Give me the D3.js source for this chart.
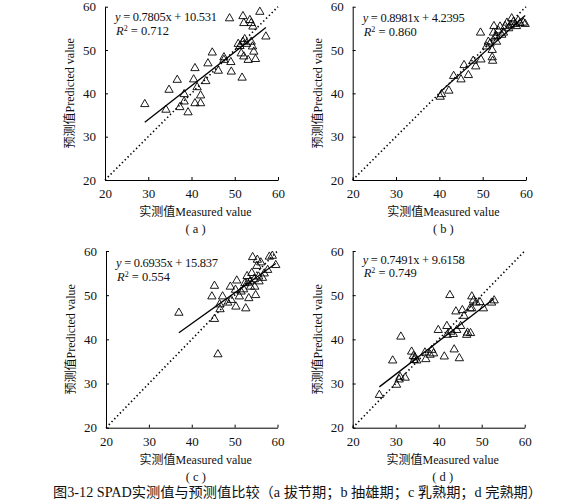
<!DOCTYPE html>
<html><head><meta charset="utf-8">
<script src="https://cdn.jsdelivr.net/npm/d3@7"></script>
<style>
body{margin:0;background:#fff;}
text{font-family:"Liberation Serif","Times New Roman","Noto Sans CJK SC",serif;fill:#111;}
</style></head>
<body><svg id="c" width="576" height="502"></svg>
<script>
// ---- data ----
const axisTicks = [20, 30, 40, 50, 60];
const panelLabels = ["( a )", "( b )", "( c )", "( d )"];
const slopes = [0.7805, 0.8981, 0.6935, 0.7491];
const intercepts = [10.531, 4.2395, 15.837, 9.6158];
const eqTexts = [" = 0.7805x + 10.531", " = 0.8981x + 4.2395", " = 0.6935x + 15.837", " = 0.7491x + 9.6158"];
const r2Texts = [" = 0.712", " = 0.860", " = 0.554", " = 0.749"];

const aMeasured = [29.2,34.1,34.8,36.7,37.3,38.3,38.3,39.2,40.8,40.5,40.8,41.3,42.1,42.1,43.3,43.8,44.8,46.2,47.5,47.5,48.8,49.1,49.2,51.7,51.9,52.1,51.9,51.2,51.5,52.1,53.1,52.3,53.5,53.8,54.2,53.8,54.1,54.4,54.8,55.8,57.2,52.7,50.8];
const aPredicted = [37.5,36.2,40.8,43.1,36.8,39.8,38.1,35.6,45.8,43.2,37.7,41.4,39.5,37.7,42.8,46.9,49.4,45.2,48.3,47.7,57.3,47.2,45.0,43.6,57.8,56.2,51.9,50.9,49.2,48.5,47.7,52.5,56.9,56.2,55.4,51.9,50.8,49.6,47.9,58.8,53.1,51.4,51.4];

const bMeasured = [40.2,40.5,42.2,43.3,45.0,45.7,46.7,47.8,48.4,49.5,49.6,50.9,51.3,52.2,52.2,52.3,52.6,52.5,52.8,53.2,53.6,54.0,54.4,54.8,55.2,55.6,56.4,56.7,57.1,57.5,57.8,58.2,58.6,59.4,59.8,56.0,53.2,51.7];
const bPredicted = [39.2,39.8,40.6,44.0,43.2,46.5,44.2,47.5,46.2,54.0,47.8,50.8,51.9,50.0,48.3,47.5,55.5,54.0,52.9,51.9,54.5,55.4,53.5,54.0,55.5,56.3,55.8,57.3,56.5,56.0,55.5,56.8,56.2,56.3,56.0,55.0,53.2,51.5];

const cMeasured = [37.0,45.3,44.7,45.3,46.1,46.5,46.6,47.2,48.4,49.2,49.0,50.2,50.5,50.3,51.1,51.5,52.1,52.4,52.6,52.9,53.3,53.6,54.0,54.2,54.7,54.9,55.2,55.3,55.6,55.7,56.1,56.5,56.9,57.7,58.1,59.6,58.8,53.0,53.7,54.6];
const cPredicted = [46.0,52.1,49.7,44.6,36.6,47.9,46.8,49.7,48.3,48.9,51.9,51.2,53.3,47.4,49.7,50.8,51.3,52.7,47.0,54.3,49.3,53.1,55.0,58.6,51.9,50.0,56.6,58.0,54.2,53.1,57.4,53.9,54.9,55.7,58.7,56.8,58.9,52.8,51.9,53.6];

const dMeasured = [26.2,29.3,30.2,30.8,31.0,31.2,32.2,33.7,34.1,34.3,34.5,34.9,36.8,37.0,38.0,38.4,38.8,39.9,41.3,41.9,42.0,42.6,42.8,43.4,43.6,44.0,44.2,44.8,45.1,45.5,45.9,46.5,46.7,47.4,47.7,47.7,48.1,48.7,49.6,50.4,52.3,52.9,47.3];
const dPredicted = [27.4,35.2,29.7,30.9,31.5,40.6,31.3,37.2,36.2,35.3,35.9,35.2,37.0,35.5,36.5,37.6,36.8,42.1,36.1,43.0,41.0,50.0,41.7,41.2,37.7,46.3,42.1,35.7,43.0,46.6,45.3,41.0,41.5,41.4,49.7,47.0,48.8,48.3,48.4,47.0,48.3,48.8,47.0];

const measured = [aMeasured, bMeasured, cMeasured, dMeasured];
const predicted = [aPredicted, bPredicted, cPredicted, dPredicted];

// ---- layout ----
const frames = [
  {l:105, t:6.7, w:173, h:173.3, eqY:21, r2Y:35},
  {l:352.7, t:6.7, w:173.3, h:173.3, eqY:22, r2Y:36},
  {l:106, t:251, w:171.5, h:176.7, eqY:267, r2Y:281},
  {l:352.7, t:251, w:172, h:176.7, eqY:264, r2Y:277}
];

const svg = d3.select("#c");

frames.forEach((f, i) => {
  const x = d3.scaleLinear().domain([20, 60]).range([f.l, f.l + f.w]);
  const y = d3.scaleLinear().domain([20, 60]).range([f.t + f.h, f.t]);
  const g = svg.append("g");

  const xa = g.append("g").attr("transform", `translate(0,${f.t + f.h})`)
    .call(d3.axisBottom(x).tickValues(axisTicks).tickSizeInner(-3).tickSizeOuter(0).tickPadding(9));
  const ya = g.append("g").attr("transform", `translate(${f.l},0)`)
    .call(d3.axisLeft(y).tickValues(axisTicks).tickSizeInner(-3).tickSizeOuter(0).tickPadding(9));
  [xa, ya].forEach(a => {
    a.selectAll("path,line").attr("stroke", "#000").attr("stroke-width", 1);
    a.selectAll("text").attr("font-size", 13).attr("fill", "#111")
      .attr("font-family", "'Liberation Serif',serif");
  });

  // 1:1 dotted line
  g.append("line")
    .attr("x1", x(20)).attr("y1", y(20)).attr("x2", x(60)).attr("y2", y(60))
    .attr("stroke", "#000").attr("stroke-width", 1.6).attr("stroke-dasharray", "1.4,2.6");

  // points
  const pts = measured[i].map((m, k) => [m, predicted[i][k]]);
  const tri = d3.symbol().type(d3.symbolTriangle).size(30);
  g.selectAll("path.pt").data(pts).enter().append("path")
    .attr("class", "pt")
    .attr("d", tri)
    .attr("transform", d => `translate(${x(d[0])},${y(d[1])})`)
    .attr("fill", "none").attr("stroke", "#000").attr("stroke-width", 0.9);

  // regression line
  const [mn, mx] = d3.extent(measured[i]);
  g.append("line")
    .attr("x1", x(mn)).attr("y1", y(slopes[i] * mn + intercepts[i]))
    .attr("x2", x(mx)).attr("y2", y(slopes[i] * mx + intercepts[i]))
    .attr("stroke", "#000").attr("stroke-width", 1.3);

  // equation
  const eq = g.append("text").attr("x", f.l + 10).attr("y", f.eqY).attr("font-size", 12.5)
    .attr("textLength", 102).attr("lengthAdjust", "spacing");
  eq.append("tspan").attr("font-style", "italic").text("y");
  eq.append("tspan").text(eqTexts[i]);
  const r2 = g.append("text").attr("x", f.l + 11).attr("y", f.r2Y).attr("font-size", 12.5);
  r2.append("tspan").attr("font-style", "italic").text("R");
  r2.append("tspan").attr("font-size", 8).attr("dy", -4).text("2");
  r2.append("tspan").attr("dy", 4).text(r2Texts[i]);

  // axis titles
  g.append("text").attr("x", f.l + f.w / 2 + 4).attr("y", f.t + f.h + 36)
    .attr("text-anchor", "middle").attr("font-size", 12).text("实测值Measured value");
  g.append("text")
    .attr("transform", `translate(${f.l - 31},${f.t + f.h / 2}) rotate(-90)`)
    .attr("text-anchor", "middle").attr("font-size", 12).text("预测值Predicted value");
  g.append("text").attr("x", f.l + f.w / 2 + 4).attr("y", f.t + f.h + 53)
    .attr("text-anchor", "middle").attr("font-size", 12.5).text(panelLabels[i]);
});

svg.append("text").attr("x", 53).attr("y", 497).attr("font-size", 14)
  .attr("textLength", 489).attr("lengthAdjust", "spacingAndGlyphs")
  .attr("font-family", "'Liberation Serif','Noto Sans CJK SC',serif")
  .text("图3-12 SPAD实测值与预测值比较（a  拔节期；b  抽雄期；c  乳熟期；d  完熟期）");
</script></body></html>
